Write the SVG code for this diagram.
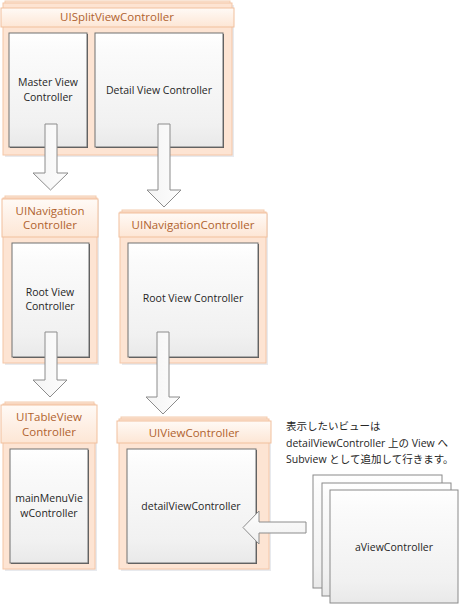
<svg xmlns="http://www.w3.org/2000/svg" width="460" height="606" viewBox="0 0 460 606">
<defs>
<linearGradient id="hdr" x1="0" y1="0" x2="0" y2="1">
<stop offset="0" stop-color="#fffaf6"/>
<stop offset="1" stop-color="#fde6d5"/>
</linearGradient>
<linearGradient id="inner" x1="0" y1="0" x2="0" y2="1">
<stop offset="0" stop-color="#ffffff"/>
<stop offset="0.15" stop-color="#fbfbfb"/>
<stop offset="0.8" stop-color="#f1f1f1"/>
<stop offset="1" stop-color="#e9e9e9"/>
</linearGradient>
<linearGradient id="arr" x1="0" y1="0" x2="1" y2="0">
<stop offset="0" stop-color="#f4f4f4"/>
<stop offset="1" stop-color="#fdfdfd"/>
</linearGradient>
<linearGradient id="arrv" x1="0" y1="0" x2="0" y2="1">
<stop offset="0" stop-color="#fdfdfd"/>
<stop offset="1" stop-color="#f0f0f0"/>
</linearGradient>
</defs>
<style>
.cont{fill:#fde4d3;stroke:#f4c6a6;stroke-width:1}
.back{fill:#fde9db;stroke:#f4cbad;stroke-width:1}
.shadow{fill:#d8dce2;opacity:0.6}
.hdr{fill:url(#hdr);stroke:#f1c09d;stroke-width:1}
.inner{fill:url(#inner);stroke:#707070;stroke-width:1}
.ishadow{fill:#555555}
.stack{fill:url(#inner);stroke:#8a8a8a;stroke-width:1}
.arrow{fill:url(#arr);stroke:#8c8c8c;stroke-width:1}
.arrowh{fill:url(#arrv);stroke:#8c8c8c;stroke-width:1}
.ht{font-family:"Open Sans","Noto Sans",sans-serif;font-size:11.5px;fill:#b0632f;text-anchor:middle}
.it{font-family:"Open Sans","Noto Sans",sans-serif;font-size:10.5px;fill:#262626;text-anchor:middle}
.jt{font-family:"Open Sans","Noto Sans CJK JP",sans-serif;font-size:10.5px;fill:#262626}
</style>

<g id="UISplitViewController">
<rect class="shadow" x="5" y="5" width="229" height="152"/>
<rect class="back" x="5" y="1" width="225" height="152"/>
<rect class="cont" x="3" y="3" width="229" height="152"/>
<rect class="hdr" x="1" y="8" width="233" height="19"/>
<text class="ht" x="117" y="21">UISplitViewController</text>
<g id="MasterViewController">
<rect class="ishadow" x="10" y="34" width="78" height="114"/>
<rect class="inner" x="9" y="33" width="78" height="114"/>
<text class="it" x="48" y="86">Master View</text>
<text class="it" x="48" y="101">Controller</text>
</g>
<g id="DetailViewController">
<rect class="ishadow" x="96" y="34" width="128" height="114"/>
<rect class="inner" x="95" y="33" width="128" height="114"/>
<text class="it" x="159" y="94">Detail View Controller</text>
</g>
</g>

<g id="UINavigationControllerLeft">
<rect class="shadow" x="5" y="200" width="94" height="165"/>
<rect class="back" x="5" y="196" width="91" height="165"/>
<rect class="cont" x="3" y="198" width="94" height="165"/>
<rect class="hdr" x="2" y="199" width="96" height="38"/>
<text class="ht" x="50" y="215">UINavigation</text>
<text class="ht" x="50" y="229">Controller</text>
<g id="RootViewControllerLeft">
<rect class="ishadow" x="13" y="244" width="77" height="114"/>
<rect class="inner" x="12" y="243" width="77" height="114"/>
<text class="it" x="50" y="296">Root View</text>
<text class="it" x="50" y="310">Controller</text>
</g>
</g>

<g id="UINavigationControllerRight">
<rect class="shadow" x="122" y="214" width="146" height="151"/>
<rect class="back" x="122" y="210" width="142" height="151"/>
<rect class="cont" x="120" y="212" width="146" height="151"/>
<rect class="hdr" x="119" y="213" width="148" height="24"/>
<text class="ht" x="193" y="229">UINavigationController</text>
<g id="RootViewControllerRight">
<rect class="ishadow" x="129" y="244" width="130" height="114"/>
<rect class="inner" x="128" y="243" width="130" height="114"/>
<text class="it" x="193" y="302">Root View Controller</text>
</g>
</g>

<g id="UITableViewController">
<rect class="shadow" x="5" y="406" width="92" height="165"/>
<rect class="back" x="5" y="402" width="89" height="165"/>
<rect class="cont" x="3" y="404" width="92" height="165"/>
<rect class="hdr" x="1" y="405" width="96" height="38"/>
<text class="ht" x="49" y="421">UITableView</text>
<text class="ht" x="49" y="436">Controller</text>
<g id="mainMenuViewController">
<rect class="ishadow" x="11" y="450" width="78" height="114"/>
<rect class="inner" x="10" y="449" width="78" height="114"/>
<text class="it" x="49" y="502">mainMenuVie</text>
<text class="it" x="49" y="517">wController</text>
</g>
</g>

<g id="UIViewController">
<rect class="shadow" x="121" y="421" width="150" height="150"/>
<rect class="back" x="121" y="417" width="146" height="150"/>
<rect class="cont" x="119" y="419" width="150" height="150"/>
<rect class="hdr" x="117" y="421" width="154" height="22"/>
<text class="ht" x="194" y="437">UIViewController</text>
<g id="detailViewController">
<rect class="ishadow" x="128" y="450" width="129" height="114"/>
<rect class="inner" x="127" y="449" width="129" height="114"/>
<text class="it" x="191" y="510">detailViewController</text>
</g>
</g>

<g id="aViewController">
<rect class="stack" x="313" y="475" width="129" height="113"/>
<rect class="stack" x="322" y="483" width="129" height="113"/>
<rect class="stack" x="330" y="490" width="128" height="113"/>
<text class="it" x="394" y="551">aViewController</text>
</g>

<g id="note">
<text class="jt" x="286" y="430">表示したいビューは</text>
<text class="jt" x="286" y="447">detailViewController 上の View へ</text>
<text class="jt" x="286" y="463">Subview として追加して行きます。</text>
</g>

<g id="connectors">
<path class="arrow" d="M45,124 H57 V173 H68 L50.5,190 L33,173 H45 Z"/>
<path class="arrow" d="M158,124 H170 V190 H181 L164,207 L147,190 H158 Z"/>
<path class="arrow" d="M45,332 H57 V380 H67 L50,397 L33,380 H45 Z"/>
<path class="arrow" d="M157,332 H169 V397 H180 L163,414 L146,397 H157 Z"/>
<path class="arrowh" d="M306,522 V533 H259 V544 L243,527.5 L259,511 V522 Z"/>
</g>
</svg>
